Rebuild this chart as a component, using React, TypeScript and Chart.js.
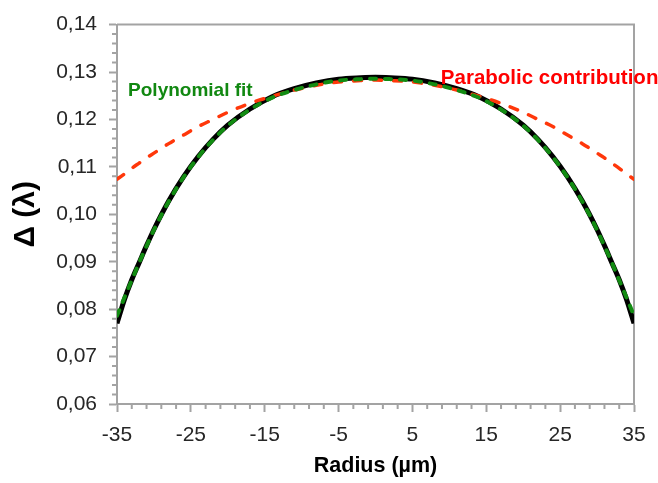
import React, { useEffect, useRef } from "react";
import { Chart, registerables } from "chart.js";

Chart.register(...registerables);

// Radius positions (µm) at which the profiles are sampled
const radius = [
  -35, -34, -33, -32, -31, -30, -28, -26, -24, -22, -20, -17, -14, -11, -8, -5, -2, 0,
  2, 5, 8, 11, 14, 17, 20, 22, 24, 26, 28, 30, 31, 32, 33, 34, 35,
];

// Measured retardation profile Δ (λ)
const measured = [
  0.0770, 0.0820, 0.0862, 0.0898, 0.0934, 0.0968, 0.1028, 0.1079, 0.1122, 0.1158, 0.1188,
  0.1222, 0.1248, 0.1265, 0.1277, 0.1285, 0.1288, 0.1289,
  0.1288, 0.1285, 0.1277, 0.1265, 0.1248, 0.1222, 0.1188, 0.1158, 0.1122, 0.1079, 0.1028,
  0.0968, 0.0934, 0.0898, 0.0862, 0.0820, 0.0770,
];

// Polynomial fit of the profile
const polynomialFit = [
  0.0786, 0.0824, 0.0861, 0.0898, 0.0933, 0.0967, 0.1027, 0.1078, 0.1121, 0.1157, 0.1187,
  0.1221, 0.1246, 0.1262, 0.1274, 0.1282, 0.1285, 0.1286,
  0.1285, 0.1282, 0.1274, 0.1262, 0.1246, 0.1221, 0.1187, 0.1157, 0.1121, 0.1078, 0.1027,
  0.0967, 0.0933, 0.0898, 0.0861, 0.0824, 0.0786,
];

// Parabolic (second-order) contribution of the fit
const parabolic = [
  0.1074, 0.1085, 0.1097, 0.1108, 0.1119, 0.1129, 0.1149, 0.1167, 0.1185, 0.1200, 0.1215,
  0.1234, 0.1249, 0.1262, 0.1272, 0.1279, 0.1282, 0.1283,
  0.1282, 0.1279, 0.1272, 0.1262, 0.1249, 0.1234, 0.1215, 0.1200, 0.1185, 0.1167, 0.1149,
  0.1129, 0.1119, 0.1108, 0.1097, 0.1085, 0.1074,
];

const xTicks = [-35, -25, -15, -5, 5, 15, 25, 35];
const yTicks = [0.06, 0.07, 0.08, 0.09, 0.1, 0.11, 0.12, 0.13, 0.14];

const xTitle = "Radius (µm)";
const yTitle = "Δ (λ)";

const fitLabel = "Polynomial fit";
const fitLabelAt = [-33.5, 0.1250];
const paraLabel = "Parabolic contribution";
const paraLabelAt = [8.85, 0.1275];

const FONT = "'Liberation Sans', Arial, sans-serif";
const AXIS = "#a3a3a3";
const TEXT = "#262626";
const BLACK = "#000000";
const GREEN = "rgb(18,140,18)";
const RED = "rgb(255,55,10)";

const toPoints = (ys: number[]) => radius.map((x, i) => ({ x, y: ys[i] }));

const framePlugin = {
  id: "frame",
  beforeDatasetsDraw(chart: any) {
    const { ctx, chartArea: a, scales } = chart;
    ctx.save();
    ctx.strokeStyle = AXIS;
    ctx.lineWidth = 2;
    ctx.beginPath();
    ctx.moveTo(a.left, a.top);
    ctx.lineTo(a.right, a.top);
    ctx.lineTo(a.right, a.bottom);
    ctx.stroke();

    // minor tick marks
    ctx.lineWidth = 2;
    ctx.beginPath();
    for (let i = 0; i <= 35; i++) {
      if (i % 5 === 0) continue;
      const px = scales.x.getPixelForValue(-35 + i * 2);
      ctx.moveTo(px, a.bottom);
      ctx.lineTo(px, a.bottom + 5);
    }
    for (let i = 0; i <= 40; i++) {
      if (i % 5 === 0) continue;
      const py = scales.y.getPixelForValue(0.06 + i * 0.002);
      ctx.moveTo(a.left - 5, py);
      ctx.lineTo(a.left, py);
    }
    ctx.stroke();
    ctx.restore();
  },
  afterDatasetsDraw(chart: any) {
    const { ctx, scales } = chart;
    ctx.save();
    ctx.textAlign = "left";
    ctx.textBaseline = "alphabetic";
    ctx.font = `bold 19px ${FONT}`;
    ctx.fillStyle = "rgb(17,136,17)";
    ctx.fillText(
      fitLabel,
      scales.x.getPixelForValue(fitLabelAt[0]),
      scales.y.getPixelForValue(fitLabelAt[1])
    );
    ctx.font = `bold 20.5px ${FONT}`;
    ctx.fillStyle = "#ff0000";
    ctx.fillText(
      paraLabel,
      scales.x.getPixelForValue(paraLabelAt[0]),
      scales.y.getPixelForValue(paraLabelAt[1])
    );
    ctx.restore();
  },
};

export default function App() {
  const canvasRef = useRef<HTMLCanvasElement | null>(null);

  useEffect(() => {
    if (!canvasRef.current) return;
    const chart = new Chart(canvasRef.current, {
      type: "line",
      data: {
        datasets: [
          {
            label: fitLabel,
            data: toPoints(polynomialFit),
            borderColor: GREEN,
            borderWidth: 4,
            borderDash: [6, 9],
            borderCapStyle: "round",
            pointRadius: 0,
            cubicInterpolationMode: "monotone",
            fill: false,
          },
          {
            label: paraLabel,
            data: toPoints(parabolic),
            borderColor: RED,
            borderWidth: 3.5,
            borderDash: [8, 12],
            borderCapStyle: "round",
            pointRadius: 0,
            cubicInterpolationMode: "monotone",
            fill: false,
          },
          {
            label: "Δ",
            data: toPoints(measured),
            borderColor: BLACK,
            borderWidth: 5,
            pointRadius: 0,
            cubicInterpolationMode: "monotone",
            fill: false,
          },
        ],
      },
      options: {
        responsive: false,
        animation: false,
        devicePixelRatio: 1,
        layout: { padding: { top: 14, right: 24, bottom: 0, left: 0 } },
        plugins: {
          legend: { display: false },
          tooltip: { enabled: false },
        },
        scales: {
          x: {
            type: "linear",
            min: -35,
            max: 35,
            afterBuildTicks: (s: any) => {
              s.ticks = xTicks.map((v) => ({ value: v }));
            },
            afterFit: (s: any) => {
              s.height = 79;
            },
            ticks: {
              autoSkip: false,
              maxRotation: 0,
              padding: 11,
              color: TEXT,
              font: { family: FONT, size: 21 },
              callback: (v: any) => String(v),
            },
            grid: {
              display: true,
              drawOnChartArea: false,
              drawTicks: true,
              tickLength: 8,
              tickWidth: 2,
              tickColor: AXIS,
              color: AXIS,
            },
            border: { display: true, color: AXIS, width: 2 },
            title: {
              display: true,
              text: xTitle,
              color: "#000",
              font: { family: FONT, size: 21.5, weight: "bold" },
              padding: { top: 4, bottom: 4 },
            },
          },
          y: {
            type: "linear",
            min: 0.06,
            max: 0.14,
            afterBuildTicks: (s: any) => {
              s.ticks = yTicks.map((v) => ({ value: v }));
            },
            afterFit: (s: any) => {
              s.width = 117;
            },
            ticks: {
              padding: 12,
              color: TEXT,
              font: { family: FONT, size: 21 },
              callback: (v: any) => Number(v).toFixed(2).replace(".", ","),
            },
            grid: {
              display: true,
              drawOnChartArea: false,
              drawTicks: true,
              tickLength: 8,
              tickWidth: 2,
              tickColor: AXIS,
              color: AXIS,
            },
            border: { display: true, color: AXIS, width: 2 },
            title: {
              display: true,
              text: yTitle,
              color: "#000",
              font: { family: FONT, size: 30, weight: "bold" },
              padding: { top: 8, bottom: 8 },
            },
          },
        },
      },
      plugins: [framePlugin],
    } as any);
    return () => chart.destroy();
  }, []);

  return (
    <div
      style={{
        position: "fixed",
        left: 0,
        top: 0,
        width: 658,
        height: 483,
        background: "#ffffff",
      }}
    >
      <canvas ref={canvasRef} width={658} height={483} />
    </div>
  );
}
